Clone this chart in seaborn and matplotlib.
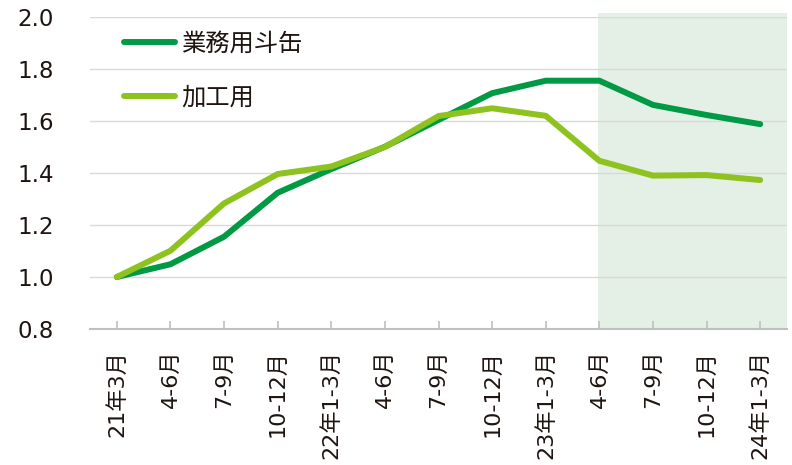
import matplotlib
matplotlib.use("Agg")
import matplotlib.pyplot as plt
import seaborn as sns
import pandas as pd

# Quarterly index (21年3月 = 1.0)
periods = ["21年3月", "4-6月", "7-9月", "10-12月", "22年1-3月", "4-6月", "7-9月",
           "10-12月", "23年1-3月", "4-6月", "7-9月", "10-12月", "24年1-3月"]
series_names = ["業務用斗缶", "加工用"]
gyomu = [1.00, 1.049, 1.155, 1.324, 1.415, 1.501, 1.604, 1.707, 1.755, 1.755, 1.662, 1.623, 1.588]
kakou = [1.00, 1.101, 1.283, 1.396, 1.425, 1.500, 1.619, 1.649, 1.620, 1.447, 1.390, 1.392, 1.373]
forecast_start = 9  # shaded from 4-6月 of year 23 onward

colors = ["#009A44", "#8DC21F"]

sns.set_theme(style="white")
plt.rcParams["font.family"] = ["DejaVu Sans", "Noto Sans CJK JP"]

df = pd.DataFrame({
    "pos": list(range(len(periods))) * 2,
    "value": gyomu + kakou,
    "series": [series_names[0]] * len(periods) + [series_names[1]] * len(periods),
})

fig = plt.figure(figsize=(7.92, 4.65), dpi=100)
ax = fig.add_axes([90 / 792, 1 - 329 / 465, (787 - 90) / 792, (329 - 17) / 465])

ax.axvspan(forecast_start - 0.02, len(periods) - 0.5, ymin=0, ymax=1.013,
           color="#E4EFE6", lw=0, zorder=0, clip_on=False)

sns.lineplot(data=df, x="pos", y="value", hue="series", palette=colors,
             hue_order=series_names, sort=False, linewidth=4.3, ax=ax, zorder=3,
             solid_capstyle="round", solid_joinstyle="miter")

ax.set_xlim(-0.5, len(periods) - 0.5)
ax.set_ylim(0.8, 2.0)
yticks = [0.8, 1.0, 1.2, 1.4, 1.6, 1.8, 2.0]
ax.set_yticks(yticks)
ax.set_yticklabels([f"{v:.1f}" for v in yticks])
ax.set_xticks(range(len(periods)))
ax.set_xticklabels(periods, rotation=90)
ax.set_xlabel("")
ax.set_ylabel("")

ax.yaxis.grid(True, color="#D9D9D9", linewidth=1.0, zorder=1)
ax.set_axisbelow(True)
for side in ["top", "right", "left"]:
    ax.spines[side].set_visible(False)
ax.spines["bottom"].set_color("#BFBFBF")
ax.spines["bottom"].set_linewidth(1.5)

text_color = "#1E1410"
ax.tick_params(axis="y", length=0, pad=26, labelsize=16.5, labelcolor=text_color)
ax.tick_params(axis="x", direction="in", length=6, width=1.2, color="#BFBFBF",
               pad=15, labelsize=16, labelcolor=text_color, bottom=True)

leg = ax.legend(loc="upper left", bbox_to_anchor=(0.017, 1.027), frameon=False,
                prop={"family": ["Noto Sans CJK JP"], "size": 17.5},
                handlelength=2.1, handletextpad=0.25,
                labelspacing=1.15, labelcolor=text_color)
for line in leg.get_lines():
    line.set_linewidth(4.3)
    line.set_solid_capstyle("round")

fig.savefig("out.png", dpi=100)
